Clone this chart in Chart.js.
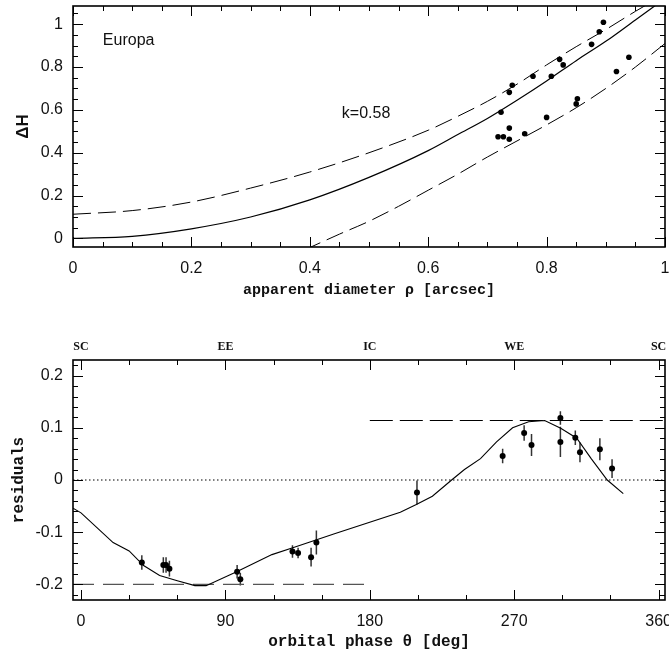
<!DOCTYPE html>
<html>
<head>
<meta charset="utf-8">
<title>Europa residuals</title>
<script src="https://cdn.jsdelivr.net/npm/chart.js"></script>
<style>
    body { margin: 0; background: #fff; }
    #wrap { position: relative; width: 669px; height: 655px; }
    canvas { position: absolute; left: 0; }
    #topChart { top: 0; }
    #bottomChart { top: 310px; }
</style>
</head>
<body>
<div id="wrap">
    <canvas id="topChart" width="669" height="310" style="width:669px;height:310px"></canvas>
    <canvas id="bottomChart" width="669" height="345" style="width:669px;height:345px"></canvas>
</div>

<script>
// ---- top panel: delta H against apparent diameter ----
const diamTicks = [0, 0.2, 0.4, 0.6, 0.8, 1];
const diamTickLabels = ['0', '0.2', '0.4', '0.6', '0.8', '1'];
const dHTicks = [0, 0.2, 0.4, 0.6, 0.8, 1];
const dHTickLabels = ['0', '0.2', '0.4', '0.6', '0.8', '1'];

const diamObs = [0.896, 0.889, 0.876, 0.939, 0.918, 0.822, 0.828, 0.777, 0.808, 0.742,
                 0.737, 0.723, 0.852, 0.850, 0.800, 0.737, 0.718, 0.727, 0.737, 0.763];
const dHObs   = [1.009, 0.965, 0.906, 0.846, 0.779, 0.836, 0.810, 0.757, 0.757, 0.715,
                 0.682, 0.589, 0.652, 0.628, 0.565, 0.515, 0.475, 0.475, 0.463, 0.489];

const diamGrid = [0, 0.1, 0.2, 0.3, 0.4, 0.5, 0.6, 0.65, 0.7, 0.75, 0.8, 0.85, 0.9, 0.95, 1.0];
const dHModel  = [0, 0.01, 0.045, 0.10, 0.18, 0.285, 0.41, 0.485, 0.56, 0.645, 0.735, 0.83, 0.92, 1.02, 1.12];
const dHUpper  = [0.113, 0.13, 0.17, 0.235, 0.31, 0.40, 0.505, 0.57, 0.64, 0.72, 0.81, 0.895, 0.975, 1.06, 1.14];
const diamLowGrid = [0.39, 0.45, 0.5, 0.55, 0.6, 0.65, 0.7, 0.75, 0.8, 0.85, 0.9, 0.95, 1.0];
const dHLower     = [-0.055, 0.02, 0.08, 0.15, 0.225, 0.30, 0.38, 0.455, 0.53, 0.61, 0.70, 0.80, 0.91];

// ---- bottom panel: residuals against orbital phase ----
const phaseTicks = [0, 90, 180, 270, 360];
const phaseTickLabels = ['0', '90', '180', '270', '360'];
const phaseEvents = ['SC', 'EE', 'IC', 'WE', 'SC'];
const residTicks = [-0.2, -0.1, 0, 0.1, 0.2];
const residTickLabels = ['-0.2', '-0.1', '0', '0.1', '0.2'];

const phaseObs = [37.9, 51.3, 53.0, 55.1, 97.3, 99.3, 131.8, 135.3, 143.4, 146.7,
                  209.4, 262.8, 276.2, 280.8, 298.8, 298.8, 308.1, 311.0, 323.4, 331.0];
const residObs = [-0.158, -0.163, -0.163, -0.170, -0.176, -0.190, -0.137, -0.140, -0.148, -0.120,
                  -0.024, 0.046, 0.090, 0.067, 0.119, 0.073, 0.081, 0.053, 0.059, 0.022];
const residErr = [0.014, 0.015, 0.015, 0.015, 0.013, 0.012, 0.012, 0.010, 0.018, 0.023,
                  0.023, 0.014, 0.015, 0.021, 0.013, 0.029, 0.014, 0.019, 0.021, 0.018];

const phaseModel = [-5, 0, 20, 30, 39, 49, 60, 71, 78, 97, 119, 132, 158, 199, 209, 219,
                    231, 239, 249, 259, 269, 279, 289, 299, 309, 318, 328, 338];
const residModel = [-0.054, -0.063, -0.120, -0.136, -0.164, -0.183, -0.193, -0.2025, -0.2025, -0.176,
                    -0.143, -0.130, -0.103, -0.062, -0.047, -0.031, 0.0, 0.020, 0.041, 0.073,
                    0.100, 0.1115, 0.114, 0.099, 0.080, 0.041, 0.0, -0.026];

const lowLevelPhase = [-5, 180];
const lowLevel = [-0.2, -0.2];
const highLevelPhase = [180, 364];
const highLevel = [0.114, 0.114];
const zeroPhase = [-5, 364];
const zeroLevel = [0, 0];

const pts = (xs, ys) => xs.map((x, i) => ({ x: x, y: ys[i] }));

const tickFont = { family: '"Liberation Sans", Arial, sans-serif', size: 16 };
const monoBold = size => ({ family: '"Liberation Mono", "DejaVu Sans Mono", monospace', size: size, weight: 'bold' });

function fixedAxis(values, labels, extra) {
    return Object.assign({
        type: 'linear',
        grid: { display: false, drawTicks: false },
        border: { display: false },
        afterBuildTicks: s => { s.ticks = values.map(v => ({ value: v })); },
        ticks: {
            autoSkip: false, maxRotation: 0, color: '#111', font: tickFont, padding: 10,
            callback: (v, i) => labels[i]
        }
    }, extra);
}

// inward ticks on all four sides plus the frame
const frameTicks = {
    id: 'frameTicks',
    afterDatasetsDraw(chart, args, o) {
        const { ctx, chartArea: a } = chart;
        const xs = chart.scales.x, ys = chart.scales.y;
        ctx.save();
        ctx.strokeStyle = '#000';
        ctx.lineWidth = 1;
        const each = (scale, step, major, fn) => {
            const k0 = Math.ceil(scale.min / step - 1e-9), k1 = Math.floor(scale.max / step + 1e-9);
            for (let k = k0; k <= k1; k++) {
                const v = k * step;
                const r = v / major;
                fn(scale.getPixelForValue(v), Math.abs(r - Math.round(r)) < 1e-6 ? 10 : 5);
            }
        };
        ctx.beginPath();
        each(xs, o.xMinor, o.xMajor, (p, len) => {
            p = Math.round(p) + 0.5;
            ctx.moveTo(p, a.bottom); ctx.lineTo(p, a.bottom - len);
            ctx.moveTo(p, a.top); ctx.lineTo(p, a.top + len);
        });
        each(ys, o.yMinor, o.yMajor, (p, len) => {
            p = Math.round(p) + 0.5;
            ctx.moveTo(a.left, p); ctx.lineTo(a.left + len, p);
            ctx.moveTo(a.right, p); ctx.lineTo(a.right - len, p);
        });
        ctx.stroke();
        ctx.lineWidth = 1.6;
        ctx.strokeRect(a.left, a.top, a.right - a.left, a.bottom - a.top);

        ctx.fillStyle = '#111';
        ctx.font = '16px "Liberation Sans", Arial, sans-serif';
        ctx.textAlign = 'center';
        ctx.textBaseline = 'middle';
        (o.notes || []).forEach(n => {
            ctx.fillText(n.text, xs.getPixelForValue(n.x), ys.getPixelForValue(n.y));
        });
        ctx.restore();
    }
};

// vertical error bars, drawn under the points
const errorBars = {
    id: 'errorBars',
    beforeDatasetsDraw(chart) {
        const { ctx } = chart;
        chart.data.datasets.forEach(ds => {
            if (!ds.errors) return;
            ctx.save();
            ctx.strokeStyle = '#333';
            ctx.lineWidth = 1.5;
            ctx.beginPath();
            ds.data.forEach((p, i) => {
                const x = chart.scales.x.getPixelForValue(p.x);
                ctx.moveTo(x, chart.scales.y.getPixelForValue(p.y - ds.errors[i]));
                ctx.lineTo(x, chart.scales.y.getPixelForValue(p.y + ds.errors[i]));
            });
            ctx.stroke();
            ctx.restore();
        });
    }
};

const lineDs = (data, extra) => Object.assign({
    data: data, showLine: true, pointRadius: 0, borderColor: '#000', borderWidth: 1.2, fill: false
}, extra);

new Chart(document.getElementById('topChart'), {
    type: 'scatter',
    data: {
        datasets: [
            { data: pts(diamObs, dHObs), pointRadius: 2.8, backgroundColor: '#000', borderWidth: 0 },
            lineDs(pts(diamGrid, dHModel), { cubicInterpolationMode: 'monotone' }),
            lineDs(pts(diamGrid, dHUpper), { borderWidth: 1, borderDash: [18, 7], cubicInterpolationMode: 'monotone' }),
            lineDs(pts(diamLowGrid, dHLower), { borderWidth: 1, borderDash: [18, 7], cubicInterpolationMode: 'monotone' })
        ]
    },
    options: {
        responsive: false,
        animation: false,
        layout: { padding: { left: 0, right: 2, top: 6, bottom: 0 } },
        plugins: {
            legend: { display: false },
            tooltip: { enabled: false },
            frameTicks: {
                xMinor: 0.05, xMajor: 0.2, yMinor: 0.05, yMajor: 0.2,
                notes: [{ text: 'Europa', x: 0.094, y: 0.925 }, { text: 'k=0.58', x: 0.495, y: 0.585 }]
            }
        },
        scales: {
            x: fixedAxis(diamTicks, diamTickLabels, {
                min: 0, max: 1,
                afterFit: s => { s.height = 63; s.paddingLeft = 0; s.paddingRight = 0; },
                ticks: {
                    autoSkip: false, maxRotation: 0, color: '#111', font: tickFont, padding: 12,
                    callback: (v, i) => diamTickLabels[i]
                },
                title: { display: true, text: 'apparent diameter ρ [arcsec]', color: '#111', font: monoBold(15), padding: { top: 0, bottom: 11 } }
            }),
            y: fixedAxis(dHTicks, dHTickLabels, {
                min: -0.04, max: 1.085,
                afterFit: s => { s.width = 73; s.paddingTop = 0; s.paddingBottom = 0; },
                title: { display: true, text: 'ΔH', color: '#111', font: { family: '"Liberation Sans", Arial, sans-serif', size: 17, weight: 'bold' }, padding: { top: 13, bottom: 0 } }
            })
        }
    },
    plugins: [frameTicks]
});

new Chart(document.getElementById('bottomChart'), {
    type: 'scatter',
    data: {
        datasets: [
            { data: pts(phaseObs, residObs), errors: residErr, pointRadius: 3, backgroundColor: '#000', borderWidth: 0 },
            lineDs(pts(phaseModel, residModel), { borderWidth: 1.1 }),
            lineDs(pts(lowLevelPhase, lowLevel), { borderWidth: 1.2, borderColor: '#555', borderDash: [21, 9] }),
            lineDs(pts(highLevelPhase, highLevel), { borderWidth: 1.1, borderDash: [23, 7] }),
            lineDs(pts(zeroPhase, zeroLevel), { borderWidth: 1.2, borderDash: [1.5, 2.5] })
        ]
    },
    options: {
        responsive: false,
        animation: false,
        layout: { padding: { left: 0, right: 2, top: 0, bottom: 0 } },
        plugins: {
            legend: { display: false },
            tooltip: { enabled: false },
            frameTicks: { xMinor: 30, xMajor: 90, yMinor: 0.02, yMajor: 0.1 }
        },
        scales: {
            x: fixedAxis(phaseTicks, phaseTickLabels, {
                min: -5, max: 364,
                afterFit: s => { s.height = 55; s.paddingLeft = 0; s.paddingRight = 0; },
                ticks: {
                    autoSkip: false, maxRotation: 0, color: '#111', font: tickFont, padding: 12,
                    callback: (v, i) => phaseTickLabels[i]
                },
                title: { display: true, text: 'orbital phase θ [deg]', color: '#111', font: monoBold(16), padding: { top: 0, bottom: 3 } }
            }),
            x2: fixedAxis(phaseTicks, phaseEvents, {
                position: 'top', min: -5, max: 364,
                afterFit: s => { s.height = 50; s.paddingLeft = 0; s.paddingRight = 0; },
                ticks: {
                    autoSkip: false, maxRotation: 0, color: '#111', padding: 6,
                    font: { family: '"Liberation Serif", "DejaVu Serif", serif', size: 12, weight: 'bold' },
                    callback: (v, i) => phaseEvents[i]
                }
            }),
            y: fixedAxis(residTicks, residTickLabels, {
                min: -0.23, max: 0.23,
                afterFit: s => { s.width = 73; s.paddingTop = 0; s.paddingBottom = 0; },
                title: { display: true, text: 'residuals', color: '#111', font: monoBold(16), padding: { top: 9, bottom: 0 } }
            })
        }
    },
    plugins: [errorBars, frameTicks]
});
</script>
</body>
</html>
